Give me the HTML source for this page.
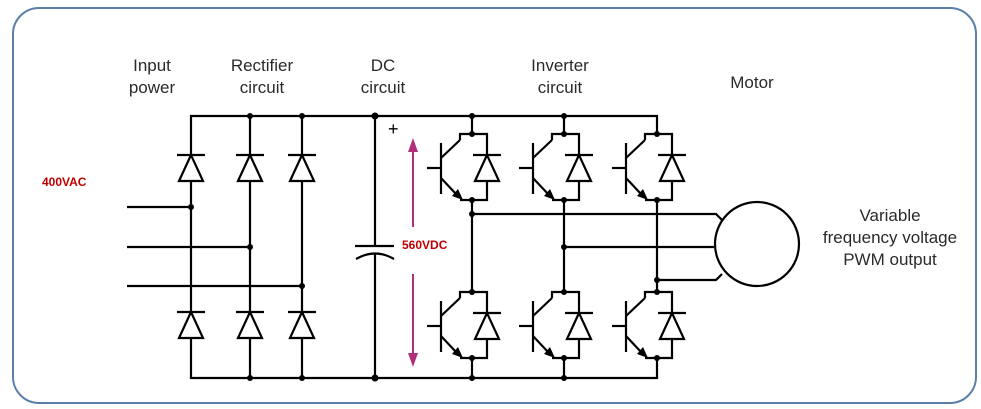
<!DOCTYPE html>
<html><head><meta charset="utf-8"><style>
html,body{margin:0;padding:0;background:#fff;}
svg{display:block;}
text{font-family:"Liberation Sans",sans-serif;}
</style></head><body>
<svg width="981" height="409" viewBox="0 0 981 409" xmlns="http://www.w3.org/2000/svg">
<defs>
<g id="dio">
<line x1="-14" y1="0" x2="14" y2="0" stroke="#000" stroke-width="2.2"/>
<polygon points="0,0 -12,26 12,26" fill="#fff" stroke="#000" stroke-width="2.2" stroke-linejoin="miter"/>
</g>
<g id="igbt" fill="none" stroke="#000" stroke-width="2.2">
<path d="M-12,6 L-12,0 L15,0 L15,21"/>
<path d="M15,47 L15,66 L-12,66"/>
<use href="#dio" x="15" y="21"/>
<line x1="-31" y1="9" x2="-31" y2="60"/>
<line x1="-45" y1="34" x2="-31" y2="34"/>
<line x1="-31" y1="24" x2="-12" y2="6"/>
<line x1="-31" y1="44" x2="-16" y2="60"/>
<polygon points="-9,66 -20,62 -14,55" fill="#000" stroke="none"/>
<circle cx="0" cy="0" r="3" fill="#000" stroke="none"/>
<circle cx="0" cy="66" r="3" fill="#000" stroke="none"/>
</g>
</defs>
<rect x="13" y="8" width="963" height="395" rx="26" ry="26" fill="#fff" stroke="#5b7fa8" stroke-width="2"/>

<g fill="#2a2a2a" font-size="17" text-anchor="middle">
<text x="152" y="71">Input</text><text x="152" y="93">power</text>
<text x="262" y="71">Rectifier</text><text x="262" y="93">circuit</text>
<text x="383" y="71">DC</text><text x="383" y="93">circuit</text>
<text x="560" y="71">Inverter</text><text x="560" y="93">circuit</text>
<text x="752" y="88">Motor</text>
<text x="890" y="221">Variable</text>
<text x="890" y="243">frequency voltage</text>
<text x="890" y="265">PWM output</text>
</g>
<text x="42" y="186" font-size="12" font-weight="bold" fill="#c00000">400VAC</text>
<text x="402" y="249" font-size="12" font-weight="bold" fill="#c00000">560VDC</text>
<text x="388" y="135" font-size="18" fill="#000">+</text>

<g stroke="#000" stroke-width="2.2" fill="none">
<path d="M191,155 L191,116 L657,116 L657,134"/>
<path d="M191,339 L191,378 L657,378 L657,358"/>
<line x1="250" y1="116" x2="250" y2="378"/>
<line x1="302" y1="116" x2="302" y2="378"/>
<line x1="191" y1="181" x2="191" y2="312"/>
<line x1="127" y1="207" x2="191" y2="207"/>
<line x1="127" y1="247" x2="250" y2="247"/>
<line x1="127" y1="286" x2="302" y2="286"/>
<line x1="375" y1="116" x2="375" y2="246"/>
<line x1="375" y1="254" x2="375" y2="378"/>
<line x1="355" y1="246" x2="394" y2="246"/>
<path d="M356,259 Q375,248 394,259"/>
<line x1="472" y1="116" x2="472" y2="134"/>
<line x1="564" y1="116" x2="564" y2="134"/>
<line x1="472" y1="200" x2="472" y2="292"/>
<line x1="564" y1="200" x2="564" y2="292"/>
<line x1="657" y1="200" x2="657" y2="292"/>
<line x1="472" y1="358" x2="472" y2="378"/>
<line x1="564" y1="358" x2="564" y2="378"/>
<path d="M472,214 L716,214 L722,220"/>
<line x1="564" y1="247" x2="714" y2="247"/>
<path d="M657,280 L716,280 L722,274"/>
<circle cx="757" cy="244" r="42"/>
</g>
<use href="#dio" x="191" y="155"/><use href="#dio" x="250" y="155"/><use href="#dio" x="302" y="155"/>
<use href="#dio" x="191" y="312"/><use href="#dio" x="250" y="312"/><use href="#dio" x="302" y="312"/>
<use href="#igbt" x="472" y="134"/><use href="#igbt" x="564" y="134"/><use href="#igbt" x="657" y="134"/>
<use href="#igbt" x="472" y="292"/><use href="#igbt" x="564" y="292"/><use href="#igbt" x="657" y="292"/>
<g fill="#000">
<circle cx="250" cy="116" r="3"/><circle cx="302" cy="116" r="3"/><circle cx="375" cy="116" r="3.5"/>
<circle cx="250" cy="378" r="3"/><circle cx="302" cy="378" r="3"/><circle cx="375" cy="378" r="3.5"/>
<circle cx="472" cy="116" r="3"/><circle cx="564" cy="116" r="3"/>
<circle cx="472" cy="378" r="3"/><circle cx="564" cy="378" r="3"/>
<circle cx="191" cy="207" r="3"/><circle cx="250" cy="247" r="3"/><circle cx="302" cy="286" r="3"/>
<circle cx="472" cy="214" r="3"/><circle cx="564" cy="247" r="3"/><circle cx="657" cy="280" r="3"/>
</g>
<g stroke="#b0307a" stroke-width="2" fill="#b0307a">
<line x1="413" y1="148" x2="413" y2="227"/>
<polygon points="413,138 408,152 418,152" stroke="none"/>
<line x1="413" y1="274" x2="413" y2="356"/>
<polygon points="413,367 408,353 418,353" stroke="none"/>
</g>
</svg>
</body></html>
